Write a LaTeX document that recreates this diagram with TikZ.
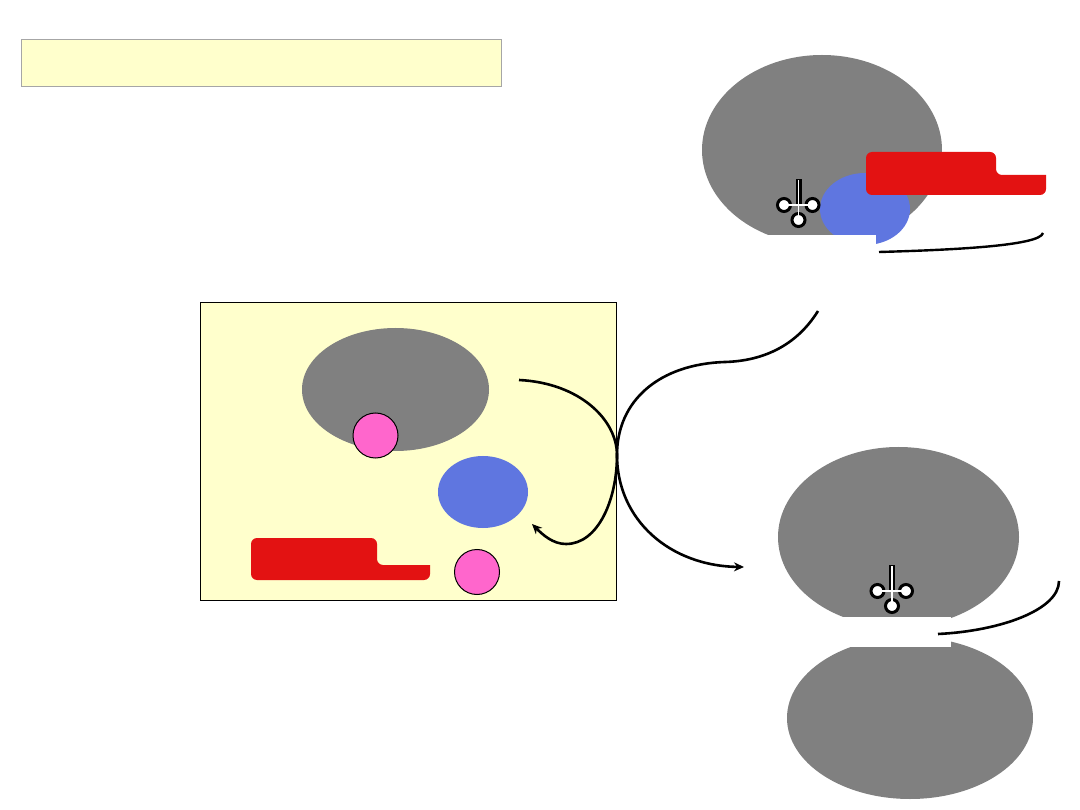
\documentclass[tikz,border=0pt]{standalone}
\usetikzlibrary{shapes.geometric,arrows.meta}
\definecolor{paleyellow}{HTML}{FFFFCC}
\definecolor{cellgray}{HTML}{808080}
\definecolor{bodyblue}{HTML}{5F76E0}
\definecolor{barred}{HTML}{E31212}
\definecolor{dotpink}{HTML}{FF66CC}
\tikzset{
  blob/.style={ellipse,inner sep=0pt,outer sep=0pt,minimum width=#1},
  grayblob/.style={blob=#1,fill=cellgray},
  blueblob/.style={blob=#1,fill=bodyblue},
  pinkdot/.style={circle,inner sep=0pt,outer sep=0pt,minimum size=45pt,fill=dotpink,draw=black,line width=1pt},
  curveline/.style={line width=2.6pt,draw=black},
  arrowline/.style={curveline,-{Stealth[length=10pt,width=9pt]}},
  mask/.style={fill=white,draw=none},
  barshape/.style={fill=barred,draw=none,rounded corners=6pt}
}
% Draws the three-lobed marker with its stem at (x,y)
\newcommand{\lobemark}[2]{%
  \fill[black] (#1-3,#2) rectangle (#1+3,#2+27);
  \foreach \dx/\dy in {-14.5/26,14/26,0/41}{
    \draw[line width=3pt,black,fill=white] (#1+\dx,#2+\dy) circle (6.5);
  }
  \draw[white,line width=1.2pt] (#1,#2+1) -- (#1,#2+38);
  \draw[white,line width=1.2pt] (#1-14,#2+26) -- (#1+14,#2+26);
}
\begin{document}
\begin{tikzpicture}[x=1pt,y=-1pt]
\useasboundingbox (0,0) rectangle (1080,810);
\fill[white] (0,0) rectangle (1080,810);

% heading band
\node[draw=black!35,fill=paleyellow,line width=0.7pt,minimum width=480pt,minimum height=47pt,inner sep=0pt,outer sep=0pt] (band) at (261,62.5) {};

% upper right group
\node[grayblob=240pt,minimum height=190pt] (topcell) at (822,150) {};
\node[blueblob=90pt,minimum height=72pt] (topbody) at (865,209) {};
\fill[mask] (695,235) rectangle (876,262);
\path[barshape] (866,152) -- (996,152) -- (996,175) [sharp corners] -- (1046,175) [rounded corners=6pt] -- (1046,195) -- (866,195) -- cycle;
\lobemark{798.5}{179}
\coordinate (topa) at (879,252);
\coordinate (topb) at (1043,233);
\draw[curveline,line width=2.4pt] (topa) .. controls (950,250) and (1040,246) .. (topb);

% lower right group
\node[grayblob=241pt,minimum height=180pt] (midcell) at (898.5,537) {};
\node[grayblob=246pt,minimum height=162pt] (lowcell) at (910,718) {};
\fill[mask] (770,617) rectangle (951,647);
\lobemark{892}{565}
\coordinate (mida) at (938,634);
\coordinate (midb) at (1059,581);
\draw[curveline] (mida) .. controls (1000,631) and (1059,610) .. (midb);

% main panel
\node[draw=black,fill=paleyellow,line width=1pt,minimum width=416pt,minimum height=297pt,inner sep=0pt,outer sep=0pt] (panel) at (408,451.5) {};
\node[grayblob=187pt,minimum height=123pt] (cell) at (395.5,389.5) {};
\node[pinkdot] (dota) at (375.5,435.5) {};
\node[blueblob=90pt,minimum height=72pt] (body) at (483,492) {};
\path[barshape] (251,538) -- (377,538) -- (377,565) [sharp corners] -- (430,565) [rounded corners=6pt] -- (430,580) -- (251,580) -- cycle;
\node[pinkdot] (dotb) at (477,572) {};

% connecting curves
\coordinate (sa) at (519,380);
\coordinate (sb) at (818,311);
\coordinate (mid) at (617,455);
\coordinate (ea) at (532,524);
\coordinate (eb) at (744,567);
\draw[arrowline] (sa) .. controls (580,383) and (617,420) .. (mid)
  .. controls (617,500) and (598,544) .. (566,544)
  .. controls (553,544) and (543,535) .. (ea);
\draw[arrowline] (sb) .. controls (795,348) and (760,361) .. (725,362)
  .. controls (660,364) and (617,400) .. (mid)
  .. controls (617,520) and (670,566) .. (eb);
\end{tikzpicture}
\end{document}
